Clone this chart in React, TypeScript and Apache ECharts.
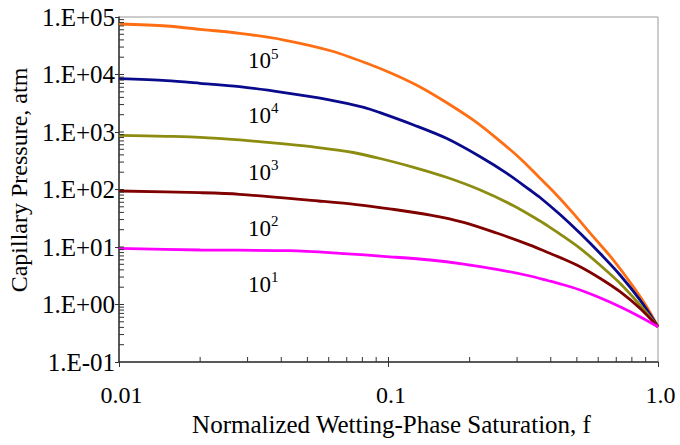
import React, { useEffect, useRef } from "react";
import * as echarts from "echarts";

// ---- Data ----
const f1e5 = [0.01, 0.015, 0.02, 0.028, 0.041, 0.061, 0.083, 0.104, 0.131, 0.164, 0.206, 0.252, 0.308, 0.365, 0.409, 0.485, 0.575, 0.683, 0.81, 0.908, 1.0];
const pc1e5 = [75500, 69700, 61000, 52100, 39800, 25900, 15700, 10200, 6070, 3260, 1620, 776, 346, 157, 92.3, 38.5, 15.1, 5.94, 2.04, 0.916, 0.41];

const f1e4 = [0.01, 0.015, 0.02, 0.028, 0.041, 0.059, 0.081, 0.093, 0.124, 0.164, 0.219, 0.275, 0.335, 0.365, 0.433, 0.514, 0.609, 0.723, 0.857, 1.0];
const pc1e4 = [8450, 7800, 7030, 6150, 4860, 3710, 2690, 2170, 1325, 777, 372, 191, 98, 72.6, 36.7, 17.3, 7.77, 3.26, 1.2, 0.41];

const f1e3 = [0.01, 0.015, 0.02, 0.028, 0.041, 0.054, 0.074, 0.093, 0.124, 0.164, 0.219, 0.29, 0.365, 0.392, 0.433, 0.514, 0.609, 0.723, 0.857, 1.0];
const pc1e3 = [877, 842, 809, 727, 619, 542, 440, 346, 243, 163, 98, 52.7, 28.3, 22.9, 16.8, 9.49, 4.86, 2.34, 0.98, 0.41];

const f1e2 = [0.01, 0.02, 0.028, 0.055, 0.076, 0.101, 0.143, 0.19, 0.252, 0.335, 0.392, 0.433, 0.514, 0.609, 0.723, 0.857, 1.0];
const pc1e2 = [94.2, 87.9, 82.6, 63.1, 54.8, 46.1, 36.0, 26.9, 17.5, 10.8, 7.96, 6.56, 4.54, 2.86, 1.67, 0.859, 0.41];

const f1e1 = [0.01, 0.02, 0.043, 0.066, 0.101, 0.143, 0.19, 0.252, 0.335, 0.392, 0.433, 0.514, 0.609, 0.723, 0.857, 1.0];
const pc1e1 = [9.49, 8.87, 8.63, 7.77, 6.76, 5.94, 5.06, 4.09, 3.13, 2.59, 2.29, 1.79, 1.31, 0.916, 0.614, 0.41];

const curveColors = ["#FF6E12", "#0A0A8C", "#8C8C10", "#800000", "#FF00FF"];
const curveExponents = ["5", "4", "3", "2", "1"];
const labelF = 0.0301;
const labelPc = [18600, 2060, 210, 22.3, 2.37];

const xTickLabels = ["0.01", "0.1", "1.0"];
const yTickLabels = ["1.E-01", "1.E+00", "1.E+01", "1.E+02", "1.E+03", "1.E+04", "1.E+05"];

const xInsideTicks = [0.02, 0.03, 0.04, 0.05, 0.06, 0.07, 0.08, 0.09, 0.1, 0.2, 0.3, 0.4, 0.5, 0.6, 0.7, 0.8, 0.9];
const yDecades = [0.1, 1, 10, 100, 1000, 10000];
const yMultipliers = [1, 2, 3, 4, 5, 6, 7, 8, 9];

const xTitle = "Normalized Wetting-Phase Saturation, f";
const yTitle = "Capillary Pressure, atm";

const FONT = "'Times New Roman', 'Liberation Serif', serif";

export default function App() {
  const ref = useRef<HTMLDivElement>(null);

  useEffect(() => {
    if (!ref.current) return;
    const chart = echarts.init(ref.current, undefined, { renderer: "svg" });

    const curves = [
      [f1e5, pc1e5],
      [f1e4, pc1e4],
      [f1e3, pc1e3],
      [f1e2, pc1e2],
      [f1e1, pc1e1],
    ];

    const yInside: number[] = [];
    yDecades.forEach((d, i) => {
      yMultipliers.forEach((m) => {
        if (i === 0 && m === 1) return;
        yInside.push(m * d);
      });
    });

    const lineSeries = curves.map(([fs, ps], i) => ({
      type: "line",
      data: fs.map((f, j) => [f, ps[j]]),
      showSymbol: false,
      symbol: "none",
      smooth: 0.3,
      lineStyle: { color: curveColors[i], width: 2.8 },
      itemStyle: { color: curveColors[i] },
      z: 3,
      silent: true,
      markPoint: {
        symbol: "circle",
        symbolSize: 0,
        silent: true,
        itemStyle: { color: "rgba(0,0,0,0)" },
        label: {
          show: true,
          position: "right",
          distance: 0,
          formatter: () => `{b|10}{s|${curveExponents[i]}}`,
          rich: {
            b: { fontFamily: FONT, fontSize: 23, color: "#000", lineHeight: 26, verticalAlign: "bottom" },
            s: { fontFamily: FONT, fontSize: 15, color: "#000", lineHeight: 16, verticalAlign: "top" },
          },
        },
        data: [{ coord: [labelF, labelPc[i]] }],
      },
    }));

    const tickSeries = (data: number[][], horizontal: boolean, len: number) => ({
      type: "custom",
      silent: true,
      clip: false,
      z: 10,
      data,
      renderItem: (_p: any, api: any) => {
        const pt = api.coord([api.value(0), api.value(1)]);
        return {
          type: "line",
          shape: {
            x1: pt[0],
            y1: pt[1],
            x2: horizontal ? pt[0] + len : pt[0],
            y2: horizontal ? pt[1] : pt[1] - len,
          },
          style: { stroke: "#333", lineWidth: 1 },
        };
      },
    });

    const option: any = {
      animation: false,
      backgroundColor: "#ffffff",
      textStyle: { fontFamily: FONT },
      grid: {
        left: 119,
        right: 22,
        top: 17,
        bottom: 83,
        show: true,
        borderColor: "#999",
        borderWidth: 1,
        containLabel: false,
        outerBoundsMode: "none",
      },
      xAxis: {
        type: "log",
        logBase: 10,
        min: 0.01,
        max: 1,
        name: xTitle,
        nameLocation: "middle",
        nameGap: 50,
        nameTextStyle: { fontFamily: FONT, fontSize: 25, color: "#000", padding: [0, 0, 0, 6] },
        axisLine: { show: true, lineStyle: { color: "#333", width: 1.5 } },
        axisTick: { show: true, length: 5, lineStyle: { color: "#333", width: 1 } },
        axisLabel: {
          fontFamily: FONT,
          fontSize: 24,
          color: "#000",
          margin: 21,
          padding: [0, 0, 0, 5],
          formatter: (v: number) => xTickLabels[Math.round(Math.log10(v)) + 2] ?? "",
        },
        splitLine: { show: false },
        minorTick: { show: false },
      },
      yAxis: {
        type: "log",
        logBase: 10,
        min: 0.1,
        max: 100000,
        splitNumber: 6,
        name: yTitle,
        nameLocation: "middle",
        nameGap: 78,
        nameTextStyle: { fontFamily: FONT, fontSize: 24, color: "#000", padding: [0, 0, 0, 19] },
        axisLine: { show: true, lineStyle: { color: "#333", width: 1.5 } },
        axisTick: { show: true, length: 4, lineStyle: { color: "#333", width: 1 } },
        axisLabel: {
          fontFamily: FONT,
          fontSize: 25,
          color: "#000",
          margin: 4,
          formatter: (v: number) => yTickLabels[Math.round(Math.log10(v)) + 1] ?? "",
        },
        splitLine: { show: false },
        minorTick: { show: false },
      },
      series: [
        ...lineSeries,
        tickSeries(xInsideTicks.map((v) => [v, 0.1]), false, 5),
        tickSeries(yInside.map((v) => [0.01, v]), true, 5),
      ],
    };

    chart.setOption(option);
    return () => chart.dispose();
  }, []);

  return (
    <div
      ref={ref}
      style={{ position: "fixed", left: 0, top: 0, width: 680, height: 445, background: "#fff" }}
    />
  );
}
